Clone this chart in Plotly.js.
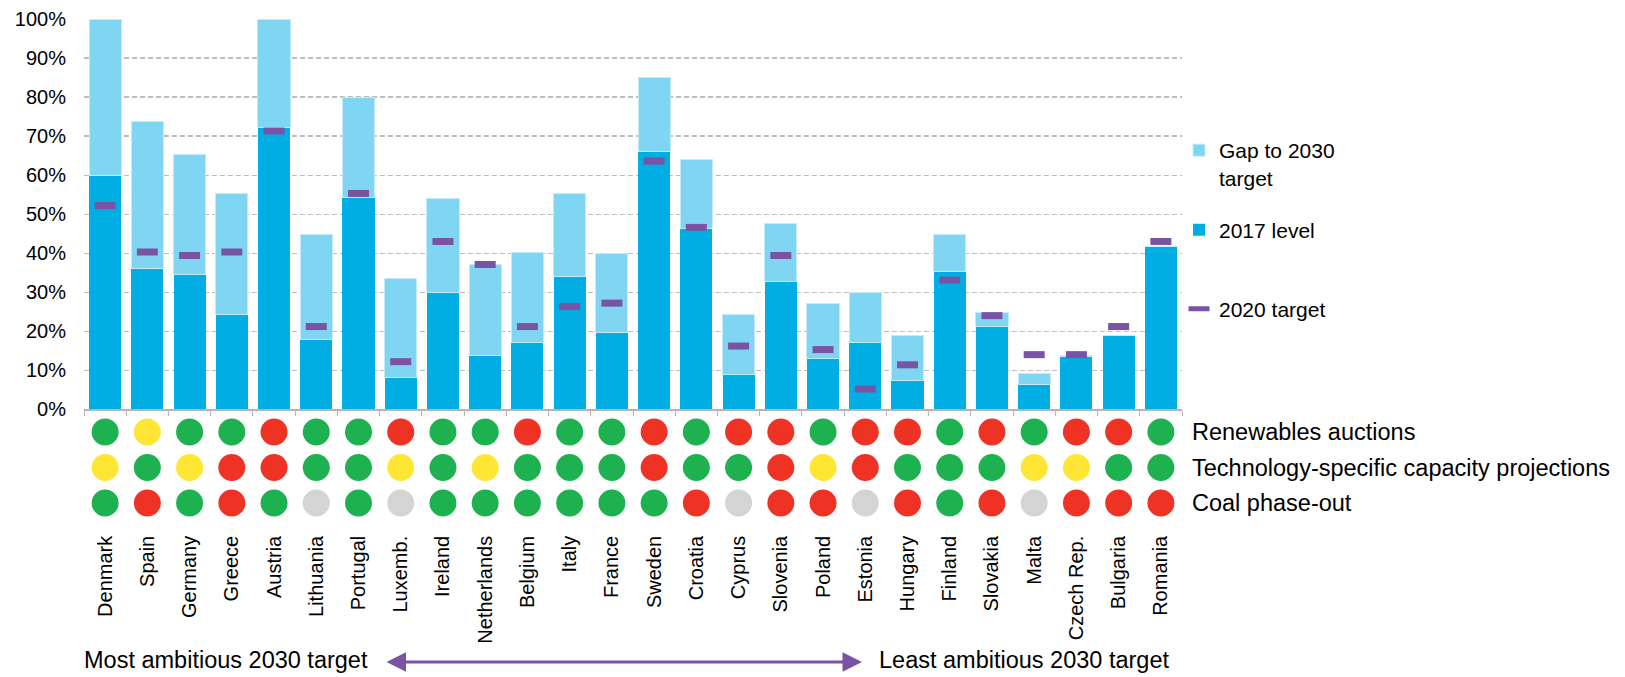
<!DOCTYPE html>
<html>
<head>
<meta charset="utf-8">
<script src="https://cdn.plot.ly/plotly-3.0.1.min.js"></script>
<style>
  html, body { margin: 0; padding: 0; background: #ffffff; }
  #chart { width: 1625px; height: 677px; }
</style>
</head>
<body>
<div id="chart"></div>
<script>
// Renewable electricity share by member state, ordered by ambition of the 2030 target
const countries = ['Denmark', 'Spain', 'Germany', 'Greece', 'Austria', 'Lithuania', 'Portugal',
  'Luxemb.', 'Ireland', 'Netherlands', 'Belgium', 'Italy', 'France', 'Sweden', 'Croatia',
  'Cyprus', 'Slovenia', 'Poland', 'Estonia', 'Hungary', 'Finland', 'Slovakia', 'Malta',
  'Czech Rep.', 'Bulgaria', 'Romania'];

// shares in percent
const level2017 = [60.0, 36.2, 34.5, 24.4, 72.1, 18.0, 54.2, 8.1, 29.8, 13.7, 17.2, 34.0, 19.8,
  66.0, 46.4, 8.9, 32.7, 13.1, 17.1, 7.4, 35.2, 21.2, 6.3, 13.5, 18.9, 41.6];
const target2030 = [100, 73.7, 65.3, 55.3, 100, 44.8, 80.0, 33.4, 54.0, 37.0, 40.3, 55.3, 39.9,
  85.0, 63.9, 24.4, 47.7, 27.1, 29.9, 18.9, 44.8, 24.9, 9.2, 13.9, 18.9, 41.6];
const target2020 = [52.2, 40.3, 39.4, 40.3, 71.3, 21.2, 55.3, 12.2, 43.0, 37.1, 21.2, 26.3, 27.2,
  63.6, 46.6, 16.2, 39.4, 15.3, 5.2, 11.4, 33.1, 24.0, 14.0, 14.0, 21.2, 43.0];

// policy assessment rows: G = in place, Y = partial, R = missing, N = not applicable
const policyRows = ['Renewables auctions', 'Technology-specific capacity projections', 'Coal phase-out'];
const auctions = ['G','Y','G','G','R','G','G','R','G','G','R','G','G','R','G','R','R','G','R','R','G','R','G','R','R','G'];
const techProjections = ['Y','G','Y','R','R','G','G','Y','G','Y','G','G','G','R','G','G','R','Y','R','G','G','G','Y','Y','G','G'];
const coalPhaseOut = ['G','R','G','R','G','N','G','N','G','G','G','G','G','G','R','N','R','R','N','R','G','R','N','R','R','R'];

const statusColours = { G: '#1db14f', Y: '#ffe634', R: '#ee3325', N: '#d4d4d4' };

const FONT = "'Liberation Sans', Arial, Helvetica, sans-serif";
const DARK_BLUE = '#00aee4';
const LIGHT_BLUE = '#80d6f2';
const PURPLE = '#7953a4';

const pct = v => v / 100;
const gap2030 = target2030.map((t, i) => Math.max(0, t - level2017[i]));

const traces = [
  {
    type: 'bar', name: '2017 level', x: countries, y: level2017.map(pct),
    marker: { color: DARK_BLUE, line: { width: 0 } },
    legend: 'legend2', hoverinfo: 'x+y'
  },
  {
    type: 'bar', name: 'Gap to 2030<br>target', x: countries, y: gap2030.map(pct),
    marker: { color: LIGHT_BLUE, line: { color: '#c4ebf9', width: 1 } },
    legend: 'legend', hoverinfo: 'x+y'
  },
  {
    type: 'scatter', mode: 'markers', name: '2020 target', x: countries, y: target2020.map(pct),
    marker: { symbol: 'line-ew', size: 15, color: PURPLE, line: { color: PURPLE, width: 7 } },
    legend: 'legend3', cliponaxis: false
  }
];

const rowData = [auctions, techProjections, coalPhaseOut];
rowData.forEach((statuses, r) => {
  traces.push({
    type: 'scatter', mode: 'markers', x: countries,
    y: countries.map(() => policyRows[r]),
    xaxis: 'x2', yaxis: 'y2', showlegend: false, cliponaxis: false,
    marker: { size: 27, color: statuses.map(s => statusColours[s]), line: { width: 0 } },
    hoverinfo: 'x+y'
  });
});

const L = 84, R = 443, T = 19, B = 10, W = 1625, H = 677;
const plotH = H - T - B;
const py = px => (H - B - px) / plotH;        // page y (px) -> paper y
const pxX = px => (px - L) / (W - L - R);     // page x (px) -> paper x

const legendBase = {
  font: { family: FONT, size: 21, color: '#000000' },
  bgcolor: 'rgba(0,0,0,0)', borderwidth: 0, valign: 'top',
  xanchor: 'left', yanchor: 'middle', x: pxX(1179), itemclick: false
};

const layout = {
  width: W, height: H,
  margin: { l: L, r: R, t: T, b: B, pad: 0 },
  paper_bgcolor: '#ffffff', plot_bgcolor: 'rgba(0,0,0,0)',
  font: { family: FONT, size: 20, color: '#000000' },
  barmode: 'stack', bargap: 0.24,
  xaxis: {
    type: 'category', domain: [0, 1], anchor: 'y', range: [-0.5, countries.length - 0.5],
    showline: true, linecolor: '#b5b5b5', linewidth: 1.5,
    ticks: 'outside', tickson: 'boundaries', ticklen: 5, tickcolor: '#b5b5b5', tickwidth: 1,
    showticklabels: false, showgrid: false, zeroline: false, fixedrange: true
  },
  yaxis: {
    domain: [py(409.3), 1], range: [0, 1], dtick: 0.1, tickformat: '.0%',
    showgrid: true, gridcolor: '#bdbdbd', gridwidth: 1.2, griddash: '5px,3px',
    zeroline: false, showline: false, ticks: '', ticklabelstandoff: 17,
    tickfont: { family: FONT, size: 20, color: '#000000' }, fixedrange: true
  },
  xaxis2: {
    type: 'category', matches: 'x', anchor: 'y2', domain: [0, 1],
    showline: false, showgrid: false, zeroline: false, ticks: '',
    tickangle: -90, ticklabelstandoff: 10,
    tickfont: { family: FONT, size: 20, color: '#000000' }, fixedrange: true
  },
  yaxis2: {
    type: 'category', anchor: 'x2', domain: [py(520.8), py(414.2)],
    categoryorder: 'array', categoryarray: policyRows, range: [2.5, -0.5],
    side: 'right', showline: false, showgrid: false, zeroline: false, ticks: '',
    ticklabelstandoff: 9,
    tickfont: { family: FONT, size: 23.5, color: '#000000' }, fixedrange: true
  },
  legend: Object.assign({}, legendBase, { y: py(164) }),
  legend2: Object.assign({}, legendBase, { y: py(230) }),
  legend3: Object.assign({}, legendBase, { y: py(309) }),
  annotations: [
    {
      xref: 'paper', yref: 'paper', x: pxX(82), y: py(660), xanchor: 'left', yanchor: 'middle',
      text: 'Most ambitious 2030 target', showarrow: false,
      font: { family: FONT, size: 23.5, color: '#000000' }
    },
    {
      xref: 'paper', yref: 'paper', x: pxX(877), y: py(660), xanchor: 'left', yanchor: 'middle',
      text: 'Least ambitious 2030 target', showarrow: false,
      font: { family: FONT, size: 23.5, color: '#000000' }
    },
    {
      xref: 'paper', yref: 'paper', x: pxX(862), y: py(662), text: '',
      showarrow: true, ax: 385 - 862, ay: 0, axref: 'pixel', ayref: 'pixel',
      arrowhead: 2, startarrowhead: 2, arrowside: 'end+start',
      arrowsize: 1.3, startarrowsize: 1.3, arrowwidth: 3, arrowcolor: PURPLE,
      standoff: 0, startstandoff: 0
    }
  ],
  hovermode: 'closest'
};

Plotly.newPlot('chart', traces, layout, { displayModeBar: false, staticPlot: true });
</script>
</body>
</html>
